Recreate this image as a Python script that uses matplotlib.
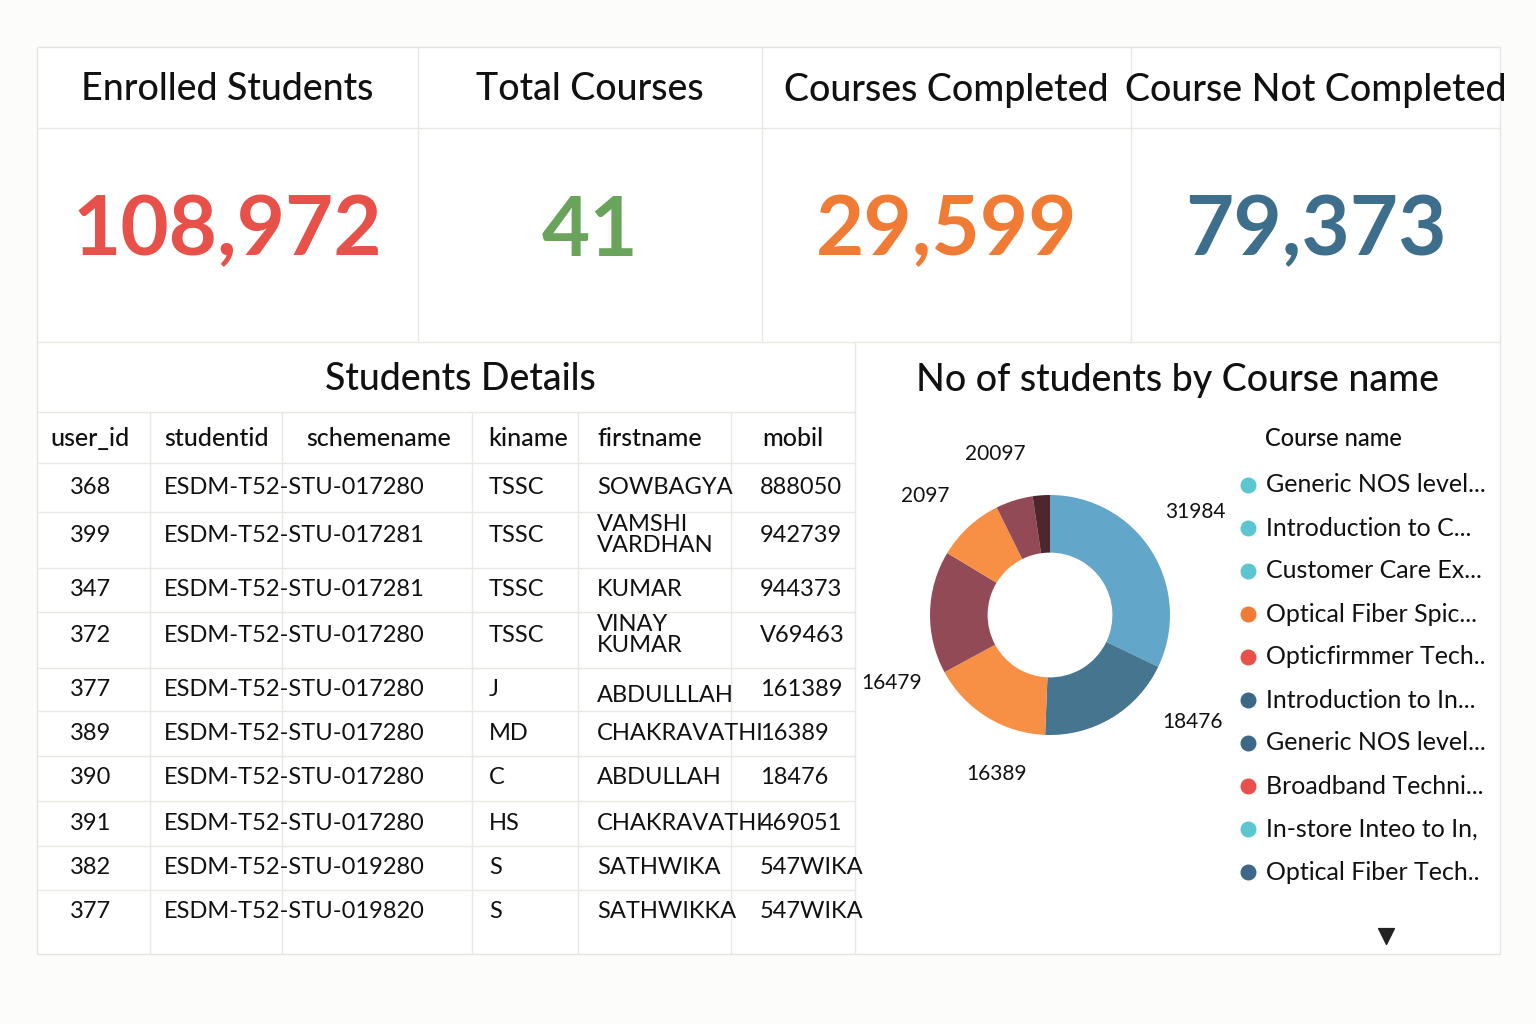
import matplotlib
matplotlib.use("Agg")
import matplotlib.pyplot as plt
from matplotlib.patches import Rectangle

plt.rcParams["font.family"] = "Lato"

kpi_titles = ["Enrolled Students", "Total Courses", "Courses Completed", "Course Not Completed"]
kpi_values = ["108,972", "41", "29,599", "79,373"]
kpi_colors = ["#E8504A", "#6AA35B", "#F07B35", "#3D6E8C"]

columns = ["user_id", "studentid", "schemename", "kiname", "firstname", "mobil"]
user_id = ["368", "399", "347", "372", "377", "389", "390", "391", "382", "377"]
studentid = ["ESDM-T52-STU-017280", "ESDM-T52-STU-017281", "ESDM-T52-STU-017281", "ESDM-T52-STU-017280",
             "ESDM-T52-STU-017280", "ESDM-T52-STU-017280", "ESDM-T52-STU-017280", "ESDM-T52-STU-017280",
             "ESDM-T52-STU-019280", "ESDM-T52-STU-019820"]
kiname = ["TSSC", "TSSC", "TSSC", "TSSC", "J", "MD", "C", "HS", "S", "S"]
firstname = ["SOWBAGYA", "VAMSHI\nVARDHAN", "KUMAR", "VINAY\nKUMAR", "ABDULLLAH", "CHAKRAVATHI",
             "ABDULLAH", "CHAKRAVATHI", "SATHWIKA", "SATHWIKKA"]
mobil = ["888050", "942739", "944373", "V69463", "161389", "16389", "18476", "469051", "547WIKA", "547WIKA"]

slice_values = [31984, 18476, 16389, 16479, 9000, 5000, 2300]
slice_labels = ["31984", "18476", "16389", "16479", "2097", "20097", ""]
slice_colors = ["#62A6C9", "#46758F", "#F78F45", "#934A57", "#F78F45", "#934A57", "#4E262E"]

legend_names = ["Generic NOS level...", "Introduction to C...", "Customer Care Ex...", "Optical Fiber Spic...",
                "Opticfirmmer Tech..", "Introduction to In...", "Generic NOS level...", "Broadband Techni...",
                "In-store Inteo to In,", "Optical Fiber Tech.."]
legend_colors = ["#5BC6D0", "#5BC6D0", "#5BC6D0", "#F07B35", "#E8504A", "#3D6786", "#3D6786", "#E8504A",
                 "#5BC6D0", "#3D6786"]

W, H = 1536, 1024
fig = plt.figure(figsize=(W / 100, H / 100), dpi=100)
fig.patch.set_facecolor("#FCFCFA")
bg = fig.add_axes([0, 0, 1, 1])
bg.set_xlim(0, W); bg.set_ylim(H, 0); bg.axis("off")

def line(x0, y0, x1, y1, c="#E8E8E4", lw=1):
    bg.plot([x0, x1], [y0, y1], color=c, lw=lw)

bg.add_patch(Rectangle((37, 47), 1463, 907, facecolor="white", edgecolor="#E4E4E0", lw=1))
# KPI cards
kx = [37, 418, 762, 1131, 1500]
line(37, 128, 1500, 128)
line(37, 342, 1500, 342)
for i in range(4):
    if i > 0:
        line(kx[i], 47, kx[i], 342)
    cx = (kx[i] + kx[i + 1]) / 2
    bg.text(cx, 90, kpi_titles[i], ha="center", va="center", fontsize=27, color="#111", fontweight="medium")
    bg.text(cx, 232, kpi_values[i], ha="center", va="center", fontsize=60, color=kpi_colors[i], fontweight="bold")

# Table
line(855, 342, 855, 954)
bg.text(460, 380, "Students Details", ha="center", va="center", fontsize=27, color="#111", fontweight="medium")
line(37, 412, 855, 412)
line(37, 463, 855, 463)
colx = [37, 150, 282, 472, 578, 731, 855]
for x in colx[1:-1]:
    line(x, 412, x, 954)
hdr_x = [50, 164, 306, 488, 597, 762]
for j, c in enumerate(columns):
    bg.text(hdr_x[j], 439, c, ha="left", va="center", fontsize=18, color="#111", fontweight="medium")
row_y = [488, 535, 589, 635, 689, 733, 778, 823, 867, 912]
row_b = [512, 568, 612, 668, 711, 756, 801, 846, 890]
for y in row_b:
    line(37, y, 855, y)
data_x = [70, 164, 306, 489, 597, 760]
for r in range(len(user_id)):
    vals = [user_id[r], studentid[r], "", kiname[r], firstname[r], mobil[r]]
    for j, v in enumerate(vals):
        yy = row_y[r]
        if j == 4 and r == 4:
            yy += 6
        bg.text(data_x[j], yy, v, ha="left", va="center", fontsize=17, color="#111", linespacing=0.95)

# Donut
bg.text(1177, 380, "No of students by Course name", ha="center", va="center", fontsize=27, color="#111",
        fontweight="medium")
ax = fig.add_axes([(1050 - 150) / W, 1 - (615 + 150) / H, 300 / W, 300 / H])
wedges, _ = ax.pie(slice_values, colors=slice_colors, startangle=90, counterclock=False,
                   wedgeprops=dict(width=0.48, edgecolor="none"))
ax.set_aspect("equal")
label_pos = [(1195, 512), (1193, 722), (997, 774), (892, 683), (925, 496), (995, 454)]
for (x, y), t in zip(label_pos, slice_labels):
    bg.text(x, y, t, ha="center", va="center", fontsize=15, color="#111")

bg.text(1265, 439, "Course name", ha="left", va="center", fontsize=17, color="#111", fontweight="medium")
for i, (n, c) in enumerate(zip(legend_names, legend_colors)):
    y = 485 + i * 43
    bg.scatter([1248], [y], s=110, color=c)
    bg.text(1266, y, n, ha="left", va="center", fontsize=18, color="#111")
bg.scatter([1386], [936], marker="v", s=130, color="#222")

fig.savefig("out.png", dpi=100, facecolor=fig.get_facecolor())
